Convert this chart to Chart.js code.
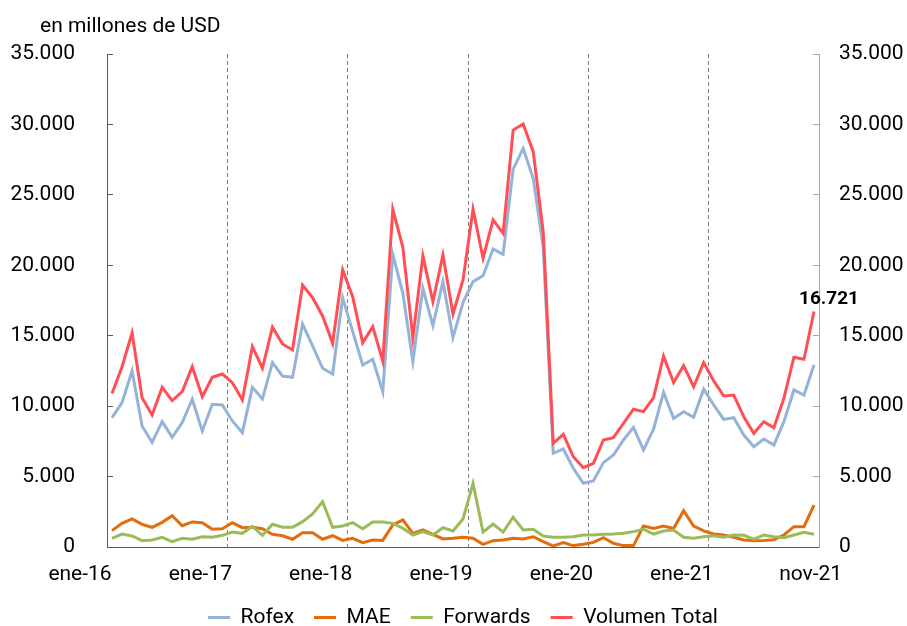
<!DOCTYPE html>
<html>
<head>
<meta charset="utf-8">
<script src="https://cdn.jsdelivr.net/npm/chart.js@4.4.1/dist/chart.umd.min.js"></script>
<style>
  html, body { margin: 0; padding: 0; background: #ffffff; }
  #wrap { width: 907px; height: 626px; }
</style>
</head>
<body>
<div id="wrap"><canvas id="c" width="907" height="626"></canvas></div>
<script>
const categories = [
  'ene-16','feb-16','mar-16','abr-16','may-16','jun-16','jul-16','ago-16','sep-16','oct-16','nov-16','dic-16',
  'ene-17','feb-17','mar-17','abr-17','may-17','jun-17','jul-17','ago-17','sep-17','oct-17','nov-17','dic-17',
  'ene-18','feb-18','mar-18','abr-18','may-18','jun-18','jul-18','ago-18','sep-18','oct-18','nov-18','dic-18',
  'ene-19','feb-19','mar-19','abr-19','may-19','jun-19','jul-19','ago-19','sep-19','oct-19','nov-19','dic-19',
  'ene-20','feb-20','mar-20','abr-20','may-20','jun-20','jul-20','ago-20','sep-20','oct-20','nov-20','dic-20',
  'ene-21','feb-21','mar-21','abr-21','may-21','jun-21','jul-21','ago-21','sep-21','oct-21','nov-21'
];
const tickLabels = ['ene-16','ene-17','ene-18','ene-19','ene-20','ene-21','nov-21'];
const yTicks = [0, 5000, 10000, 15000, 20000, 25000, 30000, 35000];
const unitLabel = 'en millones de USD';

const rofex = [9180,10250,12500,8590,7430,8900,7790,8830,10490,8240,10130,10080,
  8950,8120,11340,10510,13090,12140,12050,15830,14270,12690,12280,17700,
  15290,12920,13330,11030,20780,18010,13160,18370,15710,18840,14860,17350,
  18840,19260,21160,20780,26820,28300,26180,21300,6650,6960,5590,4520,
  4690,5990,6530,7600,8500,6890,8360,10980,9130,9610,9210,11200,
  10080,9060,9180,7950,7120,7670,7240,8900,11150,10790,12920];
const mae = [1160,1680,1990,1610,1400,1750,2220,1510,1780,1730,1260,1300,
  1730,1370,1400,1300,900,800,550,1020,1020,550,800,470,
  620,310,500,470,1560,1920,970,1210,900,570,620,690,
  620,190,450,500,620,570,730,380,70,310,100,190,
  330,660,260,100,100,1490,1320,1490,1320,2580,1490,1140,
  920,850,690,500,450,470,520,850,1440,1440,2980];
const forwards = [620,920,780,450,500,690,380,620,550,730,690,830,
  1060,970,1470,830,1610,1400,1400,1800,2340,3220,1400,1490,
  1730,1300,1780,1780,1680,1330,850,1090,850,1370,1140,1990,
  4520,1060,1630,1060,2110,1210,1260,780,690,690,730,850,
  850,900,920,970,1090,1260,920,1140,1210,690,620,730,
  800,690,850,830,550,850,730,660,850,1040,900];
const volumenTotal = [10900,12800,15200,10600,9370,11340,10390,11030,12800,10670,12050,12280,
  11670,10440,14220,12690,15600,14410,13990,18600,17700,16400,14460,19670,
  17770,14500,15640,13200,23980,21280,14860,20660,17420,20730,16540,18960,
  23980,20500,23220,22270,29600,30030,28070,22390,7360,8000,6410,5630,
  5940,7600,7760,8780,9780,9610,10600,13560,11670,12880,11380,13090,
  11790,10720,10790,9250,8070,8900,8470,10560,13470,13330,16721];

const fmt = v => String(Math.round(v)).replace(/\B(?=(\d{3})+(?!\d))/g, '.');

Chart.defaults.font.family = 'Roboto';
Chart.defaults.font.size = 21;
Chart.defaults.color = '#000000';

const textPlugin = {
  id: 'extraText',
  afterDatasetsDraw(chart) {
    const ctx = chart.ctx;
    const meta = chart.getDatasetMeta(3);
    const pt = meta.data[meta.data.length - 1];
    ctx.save();
    ctx.fillStyle = '#000';
    ctx.font = 'bold 19px Roboto';
    ctx.textAlign = 'center';
    ctx.textBaseline = 'middle';
    ctx.fillText(fmt(volumenTotal[volumenTotal.length - 1]), pt.x + 15, pt.y - 12);
    ctx.font = '21px Roboto';
    ctx.textAlign = 'left';
    ctx.textBaseline = 'alphabetic';
    ctx.fillText(unitLabel, 40, 32);
    ctx.restore();
  }
};

const line = (label, data, color, order) => ({
  label, data, borderColor: color, backgroundColor: color,
  borderWidth: 3, pointRadius: 0, tension: 0, fill: false, order
});

new Chart(document.getElementById('c'), {
  type: 'line',
  data: {
    labels: categories,
    datasets: [
      line('Rofex', rofex, '#95B3D7', 3),
      line('MAE', mae, '#E46C0A', 2),
      line('Forwards', forwards, '#9BBB59', 1),
      line('Volumen Total', volumenTotal, '#FF4F55', 0)
    ]
  },
  options: {
    responsive: false,
    animation: false,
    devicePixelRatio: 1,
    layout: { padding: { left: 0, right: 0, top: 54, bottom: -12 } },
    plugins: {
      tooltip: { enabled: false },
      title: { display: false },
      legend: {
        position: 'bottom',
        fullSize: false,
        labels: {
          boxWidth: 22, boxHeight: 3, padding: 20, color: '#000',
          font: { size: 21 },
          generateLabels: chart => chart.data.datasets.map((ds, i) => ({
            text: ds.label, fillStyle: ds.borderColor, strokeStyle: ds.borderColor,
            lineWidth: 0, hidden: false, datasetIndex: i, fontColor: '#000'
          }))
        }
      }
    },
    scales: {
      x: {
        type: 'category',
        offset: true,
        grid: {
          display: true, offset: true, drawTicks: false, lineWidth: 1,
          color: ctx => (ctx.index > 0 && ctx.index % 12 === 0 && ctx.index < categories.length) ? '#7F7F7F' : 'rgba(0,0,0,0)'
        },
        border: { display: true, color: '#595959', width: 1, dash: [4, 3] },
        ticks: {
          autoSkip: false, maxRotation: 0, minRotation: 0, padding: 15,
          labelOffset: -32, color: '#000', font: { size: 21 },
          callback: function (val, idx) {
            const l = categories[idx];
            if (!tickLabels.includes(l)) return '';
            return l.startsWith('ene') ? l : '           ' + l;
          }
        },
        afterFit: s => { s.height = 40; }
      },
      y: {
        position: 'left', min: 0, max: 35000,
        grid: { display: true, drawOnChartArea: false, drawTicks: true, tickLength: -6, color: '#595959' },
        border: { display: true, color: '#595959', width: 1 },
        afterBuildTicks: s => { s.ticks = yTicks.map(v => ({ value: v })); },
        ticks: { padding: 38, color: '#000', font: { size: 21 }, callback: v => fmt(v) },
        afterFit: s => { s.width = 107; }
      },
      y2: {
        position: 'right', min: 0, max: 35000,
        grid: { display: true, drawOnChartArea: false, drawTicks: true, tickLength: -6, color: '#A6A6A6' },
        border: { display: true, color: '#A6A6A6', width: 1 },
        afterBuildTicks: s => { s.ticks = yTicks.map(v => ({ value: v })); },
        ticks: { padding: 26, color: '#000', font: { size: 21 }, callback: v => fmt(v) },
        afterFit: s => { s.width = 88; }
      }
    }
  },
  plugins: [textPlugin]
});
</script>
</body>
</html>
